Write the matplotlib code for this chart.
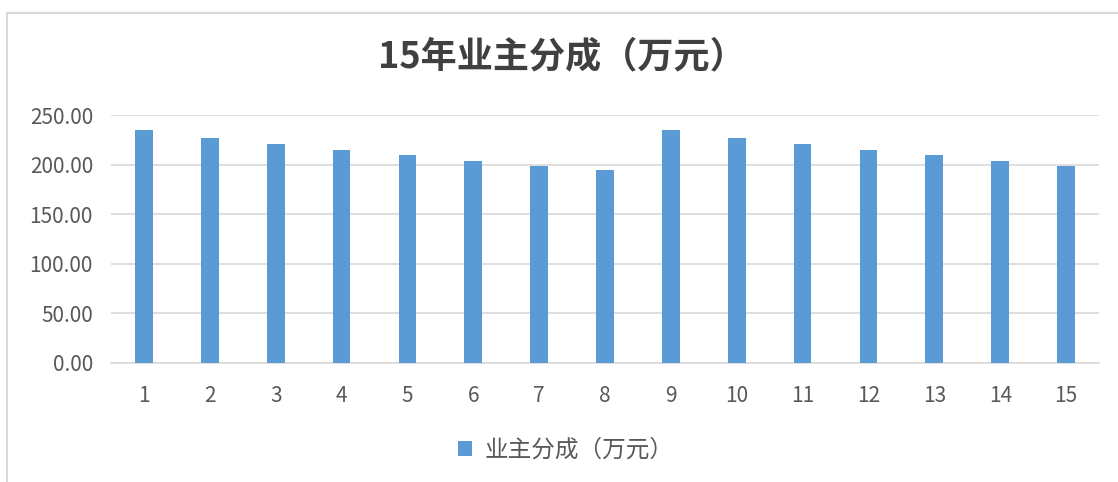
import matplotlib
matplotlib.use("Agg")
from matplotlib import pyplot as plt
from matplotlib.lines import Line2D

plt.rcParams['font.family'] = ['Noto Sans CJK SC', 'DejaVu Sans']

# Data
years = [str(i) for i in range(1, 16)]
owner_share = [234.6, 227.0, 220.7, 215.0, 209.4, 204.0, 199.0, 194.3,
               234.6, 227.0, 220.7, 215.0, 209.4, 204.0, 199.0]
series_name = '业主分成（万元）'
title = '15年业主分成（万元）'
y_ticks = [0, 50, 100, 150, 200, 250]

fig = plt.figure(figsize=(11.18, 4.82), dpi=100)
ax = fig.add_axes([0.0993, 0.2469, 0.8837, 0.5145])

bars = ax.bar(years, owner_share, width=0.27, color='#5b9bd5', label=series_name, zorder=3)

ax.set_ylim(0, 250)
ax.set_xlim(-0.5, len(years) - 0.5)
ax.set_yticks(y_ticks)
ax.set_yticklabels([f'{v:.2f}' for v in y_ticks])
ax.yaxis.grid(True, color='#d9d9d9', linewidth=1.2, zorder=0)
ax.tick_params(axis='both', length=0, labelsize=15, colors='#595959')
ax.tick_params(axis='x', pad=16)
ax.tick_params(axis='y', pad=13)
for side in ['top', 'right', 'left']:
    ax.spines[side].set_visible(False)
ax.spines['bottom'].set_color('#d9d9d9')
ax.spines['bottom'].set_linewidth(1.2)

fig.text(0.503, 0.882, title, ha='center', va='center', fontsize=26,
         fontweight='bold', color='#404040')

fig.legend(handles=[bars], labels=[series_name], loc='center',
           bbox_to_anchor=(0.506, 0.066), frameon=False, fontsize=17,
           handlelength=0.6, handleheight=0.6, handletextpad=0.5,
           labelcolor='#595959')

# chart frame (left and top edges visible)
fig.add_artist(Line2D([0.006, 0.006], [0.0, 0.973], transform=fig.transFigure,
                      color='#d9d9d9', linewidth=1.5))
fig.add_artist(Line2D([0.006, 1.0], [0.973, 0.973], transform=fig.transFigure,
                      color='#d9d9d9', linewidth=1.5))

fig.savefig('out.png', dpi=100)
